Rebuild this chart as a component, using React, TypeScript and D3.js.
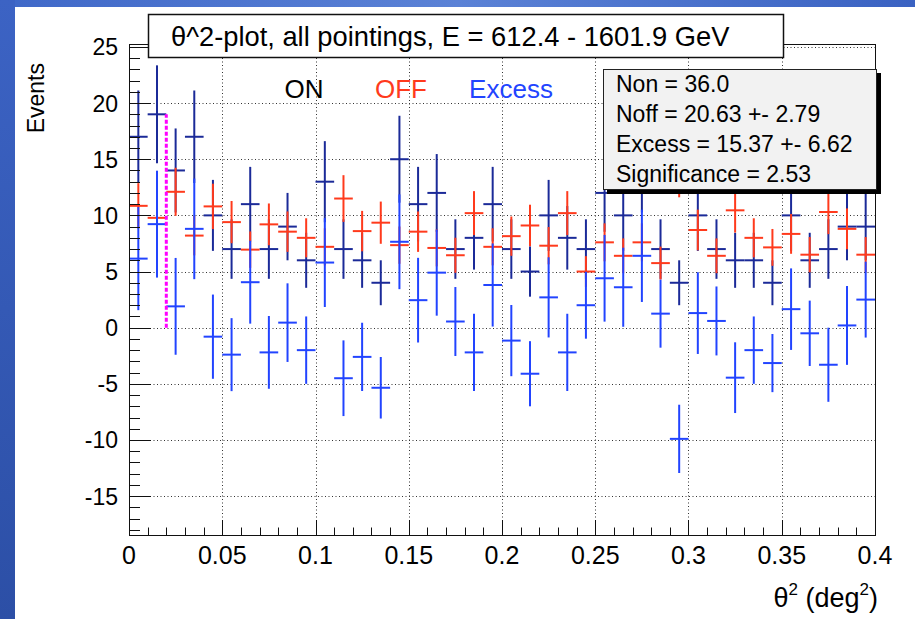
import React from "react";
import * as d3 from "d3";

// ---------- data ----------
const BIN_CENTERS = [
  0.005, 0.015, 0.025, 0.035, 0.045, 0.055, 0.065, 0.075, 0.085, 0.095,
  0.105, 0.115, 0.125, 0.135, 0.145, 0.155, 0.165, 0.175, 0.185, 0.195,
  0.205, 0.215, 0.225, 0.235, 0.245, 0.255, 0.265, 0.275, 0.285, 0.295,
  0.305, 0.315, 0.325, 0.335, 0.345, 0.355, 0.365, 0.375, 0.385, 0.395,
];
const BIN_WIDTH = 0.01;

const ON_COUNTS = [
  17, 19, 14, 17, 10, 7, 11, 7, 9, 6,
  13, 7, 6, 4, 15, 11, 12, 7, 8, 11,
  7, 5, 10, 8, 7, 12, 10, 14, 7, 4,
  10, 7, 6, 6, 4, 10, 6, 7, 9, 9,
];
const ON_ERRORS = [
  4.12, 4.36, 3.74, 4.12, 3.16, 2.65, 3.32, 2.65, 3.0, 2.45,
  3.61, 2.65, 2.45, 2.0, 3.87, 3.32, 3.46, 2.65, 2.83, 3.32,
  2.65, 2.24, 3.16, 2.83, 2.65, 3.46, 3.16, 3.74, 2.65, 2.0,
  3.16, 2.65, 2.45, 2.45, 2.0, 3.16, 2.45, 2.65, 3.0, 3.0,
];
const OFF_COUNTS = [
  10.85, 9.78, 12.1, 8.2, 10.8, 9.4, 6.95, 9.2, 8.55, 8.0,
  7.2, 11.5, 8.6, 9.35, 7.35, 8.55, 7.1, 6.45, 10.2, 7.2,
  8.15, 9.1, 7.3, 10.2, 5.0, 7.6, 6.4, 7.6, 5.75, 13.9,
  8.7, 6.4, 10.45, 8.0, 7.15, 8.35, 6.5, 10.3, 8.8, 6.5,
];
const OFF_ERRORS = [
  2.02, 1.92, 2.14, 1.76, 2.02, 1.88, 1.62, 1.86, 1.8, 1.74,
  1.65, 2.08, 1.8, 1.88, 1.66, 1.8, 1.64, 1.56, 1.96, 1.65,
  1.75, 1.85, 1.66, 1.96, 1.37, 1.69, 1.55, 1.69, 1.47, 2.29,
  1.81, 1.55, 1.98, 1.74, 1.64, 1.77, 1.57, 1.97, 1.82, 1.57,
];
const EXCESS = [
  6.15, 9.22, 1.9, 8.8, -0.8, -2.4, 4.05, -2.2, 0.45, -2.0,
  5.8, -4.5, -2.6, -5.35, 7.65, 2.45, 4.9, 0.55, -2.2, 3.8,
  -1.15, -4.1, 2.7, -2.2, 2.0, 4.4, 3.6, 6.4, 1.25, -9.9,
  1.3, 0.6, -4.45, -2.0, -3.15, 1.65, -0.5, -3.3, 0.2, 2.5,
];
const EXCESS_ERRORS = [
  4.59, 4.76, 4.31, 4.48, 3.75, 3.25, 3.69, 3.24, 3.5, 3.0,
  3.96, 3.37, 3.04, 2.74, 4.22, 3.77, 3.83, 3.07, 3.44, 3.7,
  3.17, 2.9, 3.57, 3.44, 2.98, 3.86, 3.52, 4.11, 3.03, 3.04,
  3.64, 3.07, 3.15, 3.0, 2.59, 3.63, 2.91, 3.3, 3.51, 3.38,
];

const X_TICKS = [0, 0.05, 0.1, 0.15, 0.2, 0.25, 0.3, 0.35, 0.4];
const X_TICK_LABELS = ["0", "0.05", "0.1", "0.15", "0.2", "0.25", "0.3", "0.35", "0.4"];
const Y_TICKS = [-15, -10, -5, 0, 5, 10, 15, 20, 25];
const Y_TICK_LABELS = ["-15", "-10", "-5", "0", "5", "10", "15", "20", "25"];

const CUT_X = 0.02;
const CUT_Y = 19;

const TITLE = "θ^2-plot, all pointings, E = 612.4 - 1601.9 GeV";
const STATS_LINES = [
  "Non = 36.0",
  "Noff = 20.63 +- 2.79",
  "Excess = 15.37 +- 6.62",
  "Significance = 2.53",
];
const LEGEND_LABELS = ["ON", "OFF", "Excess"];

// ---------- style ----------
const W = 915;
const H = 619;
const FONT = "'Liberation Sans', Arial, Helvetica, sans-serif";
const C_ON = "#1b2a98";
const C_OFF = "#ff3a1c";
const C_EXC = "#2244ff";
const SERIES_COLORS = [C_ON, C_OFF, C_EXC];

const FRAME = { left: 129, right: 875, top: 44, bottom: 535 };

export default function App() {
  const x = d3.scaleLinear().domain([0, 0.4]).range([FRAME.left, FRAME.right]);
  const y = d3.scaleLinear().domain([-18.46, 25.26]).range([FRAME.bottom, FRAME.top]);

  const xMinor = d3.range(0, 41).map((i) => i * 0.01).filter((_, i) => i % 5 !== 0);
  const yMinor = d3.range(-18, 26).filter((v) => v % 5 !== 0);

  const series = [
    { vals: ON_COUNTS, errs: ON_ERRORS, color: C_ON },
    { vals: OFF_COUNTS, errs: OFF_ERRORS, color: C_OFF },
    { vals: EXCESS, errs: EXCESS_ERRORS, color: C_EXC },
  ];

  const legendX = [304, 401, 511];

  return (
    <svg
      width={W}
      height={H}
      viewBox={`0 0 ${W} ${H}`}
      style={{ position: "absolute", left: 0, top: 0, fontFamily: FONT }}
    >
      <defs>
        <linearGradient id="leftBand" x1="0" y1="0" x2="0" y2="1">
          <stop offset="0" stopColor="#3c63c4" />
          <stop offset="1" stopColor="#2c4fa6" />
        </linearGradient>
        <linearGradient id="topBand" x1="0" y1="0" x2="1" y2="0">
          <stop offset="0" stopColor="#3f68c8" />
          <stop offset="0.5" stopColor="#5b82d6" />
          <stop offset="1" stopColor="#3a62c2" />
        </linearGradient>
        <clipPath id="frameClip">
          <rect x={FRAME.left} y={FRAME.top} width={FRAME.right - FRAME.left} height={FRAME.bottom - FRAME.top} />
        </clipPath>
      </defs>

      <rect x={0} y={0} width={W} height={H} fill="#ffffff" />
      <rect x={0} y={0} width={W} height={7} fill="url(#topBand)" />
      <rect x={0} y={0} width={15} height={H} fill="url(#leftBand)" />

      {/* grid */}
      <g stroke="#333" strokeWidth={1} strokeDasharray="1 2.5">
        {X_TICKS.filter((t) => t > 0 && t < 0.4).map((t, i) => (
          <line key={"gx" + i} x1={Math.round(x(t)) + 0.5} x2={Math.round(x(t)) + 0.5} y1={FRAME.top} y2={FRAME.bottom} />
        ))}
        {Y_TICKS.map((t, i) => (
          <line key={"gy" + i} x1={FRAME.left} x2={FRAME.right} y1={Math.round(y(t)) + 0.5} y2={Math.round(y(t)) + 0.5} />
        ))}
      </g>

      {/* data */}
      <g clipPath="url(#frameClip)" strokeWidth={2}>
        {series.map((s, si) => (
          <g key={"s" + si} stroke={s.color}>
            {BIN_CENTERS.map((c, i) => (
              <g key={i}>
                <line x1={x(c - BIN_WIDTH / 2)} x2={x(c + BIN_WIDTH / 2)} y1={y(s.vals[i])} y2={y(s.vals[i])} />
                <line x1={x(c)} x2={x(c)} y1={y(s.vals[i] - s.errs[i])} y2={y(s.vals[i] + s.errs[i])} />
              </g>
            ))}
          </g>
        ))}
        <line
          x1={x(CUT_X)}
          x2={x(CUT_X)}
          y1={y(0)}
          y2={y(CUT_Y)}
          stroke="#ff00ff"
          strokeWidth={3}
          strokeDasharray="4 2"
        />
      </g>

      {/* frame */}
      <rect
        x={FRAME.left + 0.5}
        y={FRAME.top + 0.5}
        width={FRAME.right - FRAME.left}
        height={FRAME.bottom - FRAME.top}
        fill="none"
        stroke="#111"
        strokeWidth={1}
      />

      {/* ticks */}
      <g stroke="#111" strokeWidth={1}>
        {X_TICKS.map((t, i) => (
          <line key={"xt" + i} x1={Math.round(x(t)) + 0.5} x2={Math.round(x(t)) + 0.5} y1={FRAME.bottom} y2={FRAME.bottom - 15} />
        ))}
        {xMinor.map((t, i) => (
          <line key={"xm" + i} x1={Math.round(x(t)) + 0.5} x2={Math.round(x(t)) + 0.5} y1={FRAME.bottom} y2={FRAME.bottom - 7.5} />
        ))}
        {Y_TICKS.map((t, i) => (
          <line key={"yt" + i} x1={FRAME.left} x2={FRAME.left + 22} y1={Math.round(y(t)) + 0.5} y2={Math.round(y(t)) + 0.5} />
        ))}
        {yMinor.map((t, i) => (
          <line key={"ym" + i} x1={FRAME.left} x2={FRAME.left + 11} y1={Math.round(y(t)) + 0.5} y2={Math.round(y(t)) + 0.5} />
        ))}
      </g>

      {/* tick labels */}
      <g fontSize={25} fill="#000" textAnchor="middle">
        {X_TICKS.map((t, i) => (
          <text key={"xl" + i} x={x(t)} y={564}>{X_TICK_LABELS[i]}</text>
        ))}
      </g>
      <g fontSize={23} fill="#000" textAnchor="end">
        {Y_TICKS.map((t, i) => (
          <text key={"yl" + i} x={118} y={y(t) + 8.5}>{Y_TICK_LABELS[i]}</text>
        ))}
      </g>

      {/* axis titles */}
      <text x={878} y={607} fontSize={27} textAnchor="end" fill="#000">
        θ<tspan fontSize={17} dy={-12}>2</tspan>
        <tspan dy={12}> (deg</tspan>
        <tspan fontSize={17} dy={-12}>2</tspan>
        <tspan dy={12}>)</tspan>
      </text>
      <text transform="translate(44,63) rotate(-90)" fontSize={23} textAnchor="end" fill="#000">
        Events
      </text>

      {/* legend labels */}
      <g fontSize={26} textAnchor="middle">
        {LEGEND_LABELS.map((l, i) => (
          <text key={"lg" + i} x={legendX[i]} y={98} fill={i === 0 ? "#000" : SERIES_COLORS[i]}>{l}</text>
        ))}
      </g>

      {/* title box */}
      <rect x={148.5} y={14.5} width={635} height={43} fill="#fff" stroke="#111" strokeWidth={1.5} />
      <text x={171} y={46} fontSize={27.3} fill="#000">{TITLE}</text>

      {/* stats box */}
      <rect x={607} y={73} width={274} height={121} fill="#000" />
      <rect x={603.5} y={69.5} width={273} height={120} fill="#f2f2f2" stroke="#222" strokeWidth={1} />
      <g fontSize={23} fill="#000">
        {STATS_LINES.map((l, i) => (
          <text key={"st" + i} x={616} y={92 + i * 30}>{l}</text>
        ))}
      </g>
    </svg>
  );
}
